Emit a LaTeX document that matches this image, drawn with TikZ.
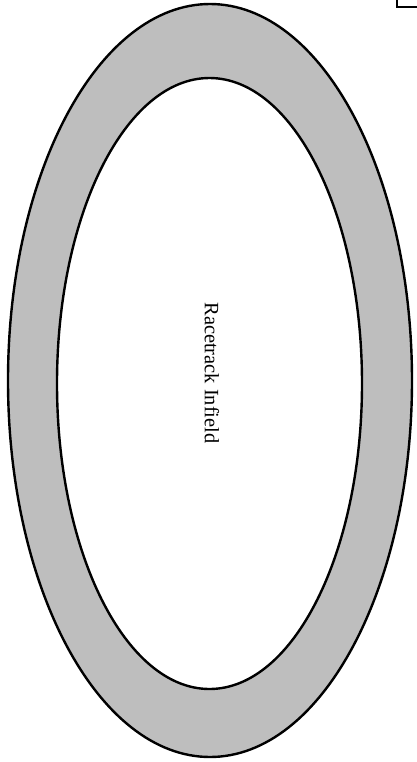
\documentclass[tikz,border=0pt]{standalone}
\usepackage{fontspec}
\setmainfont{Liberation Serif}
\definecolor{trackgrey}{RGB}{190,190,190}
\begin{document}
\begin{tikzpicture}[x=0.5pt,y=-0.5pt]
  \useasboundingbox (0,0) rectangle (417,762);
  % track between the two ovals
  \fill[trackgrey,even odd rule] (210,380.5) ellipse [x radius=202,y radius=376.5]
    (209.5,383.5) ellipse [x radius=152.5,y radius=305.5];
  \draw[line width=1.2pt] (210,380.5) ellipse [x radius=202,y radius=376.5];
  \draw[line width=1.2pt] (209.5,383.5) ellipse [x radius=152.5,y radius=305.5];
  \node[rotate=-90,font=\fontsize{10.2}{12}\selectfont] (infield) at (212,373) {Racetrack Infield};
  % corner of a box cut off at the top
  \draw[line width=1.2pt] (397,0) -- (397,7) -- (417,7);
\end{tikzpicture}
\end{document}
